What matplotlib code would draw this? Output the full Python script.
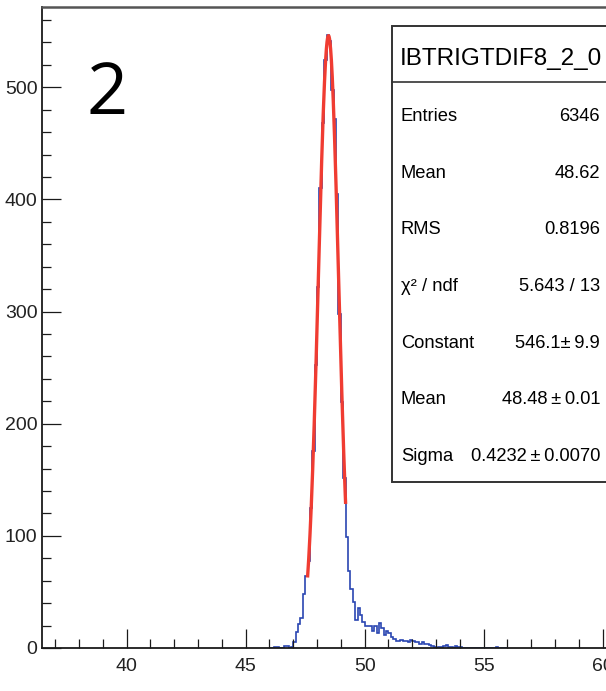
import numpy as np
import matplotlib
matplotlib.use("Agg")
import matplotlib.pyplot as plt
from matplotlib.patches import Rectangle
from matplotlib.lines import Line2D
from matplotlib.ticker import MultipleLocator

# ---- histogram data (bin width 0.1, first bin starts at 46.0) ----
bin_start = 46.0
bin_width = 0.1
counts = [
    0, 0, 1, 1, 0, 0, 2, 2, 0, 1,                 # 46.0 - 46.9
    5, 14, 21, 27, 48, 64, 78, 125, 176, 252,      # 47.0 - 47.9
    322, 410, 468, 524, 547, 541, 498, 472, 405, 298,  # 48.0 - 48.9
    219, 152, 99, 69, 53, 41, 25, 36, 29, 23,      # 49.0 - 49.9
    20, 20, 20, 15, 20, 13, 22, 18, 12, 15,        # 50.0 - 50.9
    13, 10, 8, 6, 6, 7, 6, 6, 5, 7,                # 51.0 - 51.9
    6, 5, 5, 4, 5, 4, 4, 3, 2, 1,                  # 52.0 - 52.9
    0, 1, 1, 2, 3, 1, 1, 0, 2, 1,                  # 53.0 - 53.9
    1, 0, 0, 0, 0, 0, 0, 0, 0, 0,                  # 54.0 - 54.9
    0, 0, 0, 0, 0, 1, 0, 0, 0, 0,                  # 55.0 - 55.9
]

# ---- gaussian fit ----
fit_const = 546.1
fit_mean = 48.48
fit_sigma = 0.4232
fit_lo, fit_hi = 47.6, 49.2

# ---- stats box ----
stats_title = "IBTRIGTDIF8_2_0"
stats_names = ["Entries", "Mean", "RMS", "χ² / ndf", "Constant", "Mean", "Sigma"]
stats_values = ["6346", "48.62", "0.8196", "5.643 / 13", "546.1±\u20099.9",
                "48.48\u2009±\u20090.01", "0.4232\u2009±\u20090.0070"]

pad_label = "2"

W, H, DPI = 606, 691, 100
SANS = ["Liberation Sans", "DejaVu Sans"]


def fx(px):
    return px / W


def fy(py):
    return 1.0 - py / H


fig = plt.figure(figsize=(W / DPI, H / DPI), dpi=DPI)
fig.patch.set_facecolor("white")

ax_left, ax_right, ax_top, ax_bottom = 41.7, 612.0, 7.0, 648.0
ax = fig.add_axes([fx(ax_left), fy(ax_bottom), (ax_right - ax_left) / W,
                   (ax_bottom - ax_top) / H])

px_per_unit = 23.8
x_min = 36.43
x_max = x_min + (ax_right - ax_left) / px_per_unit
y_max = (ax_bottom - ax_top) / 1.1214
ax.set_xlim(x_min, x_max)
ax.set_ylim(0, y_max)

edges = bin_start + bin_width * np.arange(len(counts) + 1)
ax.stairs(counts, edges, color="#2a46b2", linewidth=1.2, baseline=0)

xf = np.linspace(fit_lo, fit_hi, 300)
yf = fit_const * np.exp(-0.5 * ((xf - fit_mean) / fit_sigma) ** 2)
ax.plot(xf, yf, color="#f03c32", linewidth=2.4, solid_capstyle="butt")

# axes frame and ticks
for side in ("left", "bottom"):
    ax.spines[side].set_color("#1a1a1a")
    ax.spines[side].set_linewidth(1.3)
ax.spines["top"].set_color("#555555")
ax.spines["top"].set_linewidth(1.8)
ax.spines["right"].set_visible(False)

ax.xaxis.set_major_locator(MultipleLocator(5))
ax.xaxis.set_minor_locator(MultipleLocator(1))
ax.yaxis.set_major_locator(MultipleLocator(100))
ax.yaxis.set_minor_locator(MultipleLocator(20))
ax.tick_params(which="both", direction="in", colors="#1a1a1a", width=0.9,
               top=False, right=False)
ax.tick_params(which="major", length=13.5)
ax.tick_params(which="minor", length=6.5)
ax.tick_params(axis="x", which="major", pad=7)
ax.tick_params(axis="y", which="major", pad=3)
for lab in ax.get_xticklabels() + ax.get_yticklabels():
    lab.set_family(SANS)
    lab.set_fontsize(14)
    lab.set_color("#222222")

# pad number
fig.text(fx(86), fy(114), pad_label, family=["Open Sans", "DejaVu Sans"],
         fontsize=52, color="black", ha="left", va="baseline")

# stats box
box_l, box_r, box_t, box_b, head_b = 392, 620, 26, 482, 82
fig.patches.append(Rectangle((fx(box_l), fy(box_b)), (box_r - box_l) / W,
                             (box_b - box_t) / H, transform=fig.transFigure,
                             facecolor="white", edgecolor="#333333",
                             linewidth=1.4, zorder=5))
fig.lines.append(Line2D([fx(box_l), fx(box_r)], [fy(head_b), fy(head_b)],
                        transform=fig.transFigure, color="#333333",
                        linewidth=1.2, zorder=6))
fig.text(fx(501), fy(65), stats_title, family=SANS, fontsize=17.5,
         ha="center", va="baseline", color="black", zorder=7)
for i, (name, val) in enumerate(zip(stats_names, stats_values)):
    base = 121 + 56.7 * i
    fig.text(fx(401), fy(base), name, family=SANS, fontsize=13.2,
             ha="left", va="baseline", color="black", zorder=7)
    fig.text(fx(600), fy(base), val, family=SANS, fontsize=13.2,
             ha="right", va="baseline", color="black", zorder=7)

fig.savefig("out.png", dpi=DPI, facecolor="white")
